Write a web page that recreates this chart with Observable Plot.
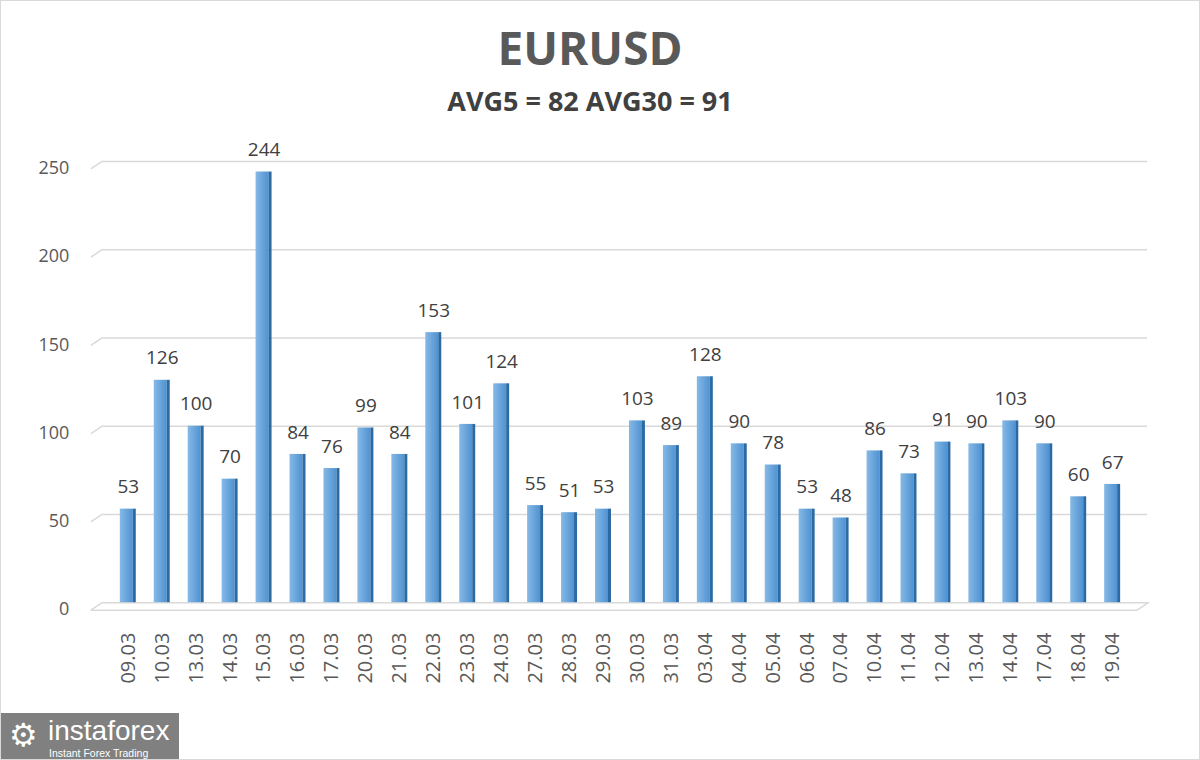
<!DOCTYPE html>
<html>
<head>
<meta charset="utf-8">
<script src="https://cdn.jsdelivr.net/npm/d3@7"></script>
<script src="https://cdn.jsdelivr.net/npm/@observablehq/plot@0.6"></script>
<style>
  html, body { margin: 0; padding: 0; background: #fff; }
  #frame { position: relative; width: 1198px; height: 758px; border: 1px solid #d9d9d9; overflow: hidden; font-family: "Open Sans", sans-serif; }
  #title { position: absolute; left: 0; width: 1178px; top: 19px; text-align: center; font-size: 46px; font-weight: 700; color: #595959; line-height: 1.2; }
  #subtitle { position: absolute; left: 0; width: 1178px; top: 84px; text-align: center; font-size: 27px; font-weight: 700; color: #404040; line-height: 1.2; }
  #chart { position: absolute; left: 0; top: 120px; }
  #logo { position: absolute; left: 0; top: 712px; width: 178px; height: 48px; background: #808080; color: #fff; }
  #logo .gear { position: absolute; left: 8px; top: 6px; font-size: 32px; line-height: 1; font-family: "DejaVu Sans", sans-serif; }
  #logo .big { position: absolute; left: 47px; top: 4px; font-size: 28px; line-height: 1; font-family: "Liberation Sans", sans-serif; font-weight: 400; white-space: nowrap; }
  #logo .small { position: absolute; left: 48px; top: 34.5px; font-size: 10.5px; line-height: 1; font-family: "Liberation Sans", sans-serif; white-space: nowrap; }
</style>
</head>
<body>
<div id="frame">
  <div id="title">EURUSD</div>
  <div id="subtitle">AVG5 = 82 AVG30 = 91</div>
  <div id="chart"></div>
  <div id="logo"><span class="gear">⚙</span><span class="big">instaforex</span><span class="small">Instant Forex Trading</span></div>
</div>
<script>
const dates = ["09.03","10.03","13.03","14.03","15.03","16.03","17.03","20.03","21.03","22.03","23.03","24.03","27.03","28.03","29.03","30.03","31.03","03.04","04.04","05.04","06.04","07.04","10.04","11.04","12.04","13.04","14.04","17.04","18.04","19.04"];
const values = [53,126,100,70,244,84,76,99,84,153,101,124,55,51,53,103,89,128,90,78,53,48,86,73,91,90,103,90,60,67];
const yTicks = [0,50,100,150,200,250];

const data = dates.map((d, i) => ({date: d, value: values[i]}));

const chart = Plot.plot({
  width: 1200,
  height: 590,
  marginLeft: 97,
  marginRight: 57,
  marginTop: 40,
  marginBottom: 108,
  style: {fontFamily: "'Open Sans', sans-serif", background: "transparent"},
  x: {domain: dates, paddingInner: 0.54, paddingOuter: 0.27, label: null},
  y: {domain: [0, 250], label: null},
  marks: [
    Plot.ruleY(yTicks, {stroke: "#d9d9d9", strokeWidth: 1.5, dx: 5}),
    Plot.barY(data, {x: "date", y: "value", fill: "url(#faceGrad)", insetRight: 3}),
    Plot.barY(data, {x: "date", y: "value", fill: "#2c6aa3", insetLeft: 13}),
    Plot.text(data, {x: "date", y: "value", text: d => String(d.value), dy: -22, fontSize: 19, fill: "#404040"}),
    Plot.axisY({ticks: yTicks, tickSize: 0, tickPadding: 29, dy: 7, fontSize: 18, color: "#595959", label: null}),
    Plot.axisX({tickSize: 0, tickRotate: -90, tickPadding: 30, fontSize: 20, color: "#595959", label: null})
  ]
});

const svg = d3.select(chart);
const defs = svg.insert("defs", ":first-child");
const g = defs.append("linearGradient").attr("id", "faceGrad").attr("x1", "0").attr("x2", "1").attr("y1", "0").attr("y2", "0");
g.append("stop").attr("offset", "0%").attr("stop-color", "#86b9e6");
g.append("stop").attr("offset", "100%").attr("stop-color", "#4f92d1");

// perspective slants of gridlines and front floor edge, placed with the y scale
const ys = chart.scale("y");
const deco = svg.insert("g", "g");
yTicks.forEach(t => {
  const yy = ys.apply(t);
  deco.append("line").attr("x1", 90).attr("y1", yy + 8).attr("x2", 102).attr("y2", yy)
    .attr("stroke", "#d9d9d9").attr("stroke-width", 1.5);
});
const y0 = ys.apply(0);
deco.append("line").attr("x1", 90).attr("y1", y0 + 8).attr("x2", 1138).attr("y2", y0 + 8)
  .attr("stroke", "#d9d9d9").attr("stroke-width", 1.5);
deco.append("line").attr("x1", 1138).attr("y1", y0 + 8).attr("x2", 1150).attr("y2", y0)
  .attr("stroke", "#d9d9d9").attr("stroke-width", 1.5);

document.getElementById("chart").appendChild(chart);
</script>
</body>
</html>
